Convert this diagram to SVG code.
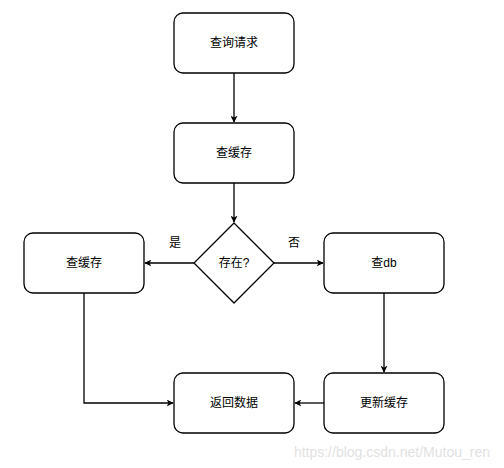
<svg xmlns="http://www.w3.org/2000/svg" width="504" height="468" viewBox="0 0 504 468">
<style>
.box{fill:#fff;stroke:#000;stroke-width:1.3}
.t{font-family:"Liberation Sans","Noto Sans CJK SC",sans-serif;font-size:12px;fill:#000;text-anchor:middle;dominant-baseline:central}
.e{fill:none;stroke:#000;stroke-width:1.3}
</style>
<defs>
<marker id="a" viewBox="0 0 10 10" refX="9" refY="5" markerWidth="7" markerHeight="7" markerUnits="userSpaceOnUse" orient="auto">
<path d="M0,0 L10,5 L0,10 L2.5,5 Z" fill="#000"/>
</marker>
</defs>
<rect width="504" height="468" fill="#fff"/>
<g id="edges">
<path class="e" d="M234,73 V122" marker-end="url(#a)"/>
<path class="e" d="M234,183 V222" marker-end="url(#a)"/>
<path class="e" d="M194,263 H145" marker-end="url(#a)"/>
<path class="e" d="M274,263 H323" marker-end="url(#a)"/>
<path class="e" d="M84,293 V403 H173" marker-end="url(#a)"/>
<path class="e" d="M384,293 V372" marker-end="url(#a)"/>
<path class="e" d="M324,403 H295" marker-end="url(#a)"/>
<text class="t" x="175" y="243">是</text>
<text class="t" x="294" y="243">否</text>
</g>
<g id="n1"><rect class="box" x="174" y="13" width="120" height="60" rx="9"/><text class="t" x="234" y="43">查询请求</text></g>
<g id="n2"><rect class="box" x="174" y="123" width="120" height="60" rx="9"/><text class="t" x="234" y="153">查缓存</text></g>
<g id="n3"><path class="box" d="M234,223 L274,263 L234,303 L194,263 Z"/><text class="t" x="234" y="263">存在?</text></g>
<g id="n4"><rect class="box" x="24" y="233" width="120" height="60" rx="9"/><text class="t" x="84" y="263">查缓存</text></g>
<g id="n5"><rect class="box" x="324" y="233" width="120" height="60" rx="9"/><text class="t" x="384" y="263">查db</text></g>
<g id="n6"><rect class="box" x="174" y="373" width="120" height="60" rx="9"/><text class="t" x="234" y="403">返回数据</text></g>
<g id="n7"><rect class="box" x="324" y="373" width="120" height="60" rx="9"/><text class="t" x="384" y="403">更新缓存</text></g>
<text x="490" y="452" style="font-family:'Liberation Sans',sans-serif;font-size:14px;fill:#e2e2e2;text-anchor:end;dominant-baseline:central">https://blog.csdn.net/Mutou_ren</text>
</svg>
